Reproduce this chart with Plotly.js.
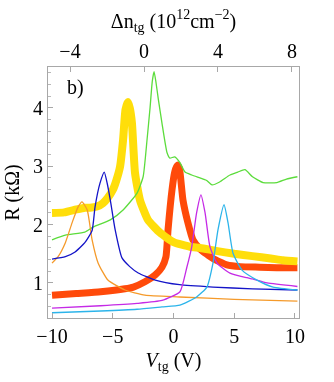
<!DOCTYPE html>
<html>
<head>
<meta charset="utf-8">
<script src="https://cdn.plot.ly/plotly-3.0.1.min.js"></script>
<style>
  html, body { margin: 0; padding: 0; background: #fff; }
  #chart { width: 334px; height: 382px; }
</style>
</head>
<body>
<div id="chart"></div>
<script>
// gate voltage (V) and resistance (kOhm)
const yellowV = [-10, -9, -8, -7.3, -6.87, -6.3, -5.8, -5.4, -4.98, -4.7, -4.4, -4.15, -3.95, -3.75, -3.6, -3.42, -3.17, -2.76, -2.1, -1.1, 0, 1.36, 2.2, 3.5, 5, 6.5, 8, 9, 10.2];
const yellowR = [2.20, 2.21, 2.26, 2.29, 2.29, 2.31, 2.37, 2.46, 2.6, 2.76, 2.99, 3.45, 3.97, 4.1, 4.0, 3.74, 2.89, 2.42, 2.08, 1.86, 1.7, 1.62, 1.6, 1.55, 1.5, 1.46, 1.42, 1.39, 1.37];

const redV = [-10, -8, -6, -4, -3.3, -2.35, -1.5, -0.95, -0.62, -0.45, -0.12, 0.1, 0.25, 0.37, 0.5, 0.78, 1.19, 1.6, 2.2, 3.25, 4.4, 5.5, 7.1, 8.5, 10.2];
const redR = [0.79, 0.82, 0.85, 0.9, 0.93, 1.02, 1.14, 1.27, 1.45, 1.91, 2.6, 2.9, 2.99, 3.02, 2.95, 2.42, 2.03, 1.74, 1.58, 1.42, 1.31, 1.28, 1.27, 1.26, 1.26];

const greenV = [-10, -8.9, -7.3, -6.6, -5.2, -4.15, -3.0, -2.5, -2.18, -1.93, -1.75, -1.6, -1.45, -1.25, -0.95, -0.53, -0.3, 0.1, 0.53, 0.95, 1.5, 2.18, 2.7, 3.17, 3.8, 4.65, 5.3, 5.88, 6.5, 7.37, 8.5, 9.3, 10.2];
const greenR = [1.74, 1.82, 1.87, 1.96, 2.08, 2.25, 2.54, 2.82, 3.45, 4.0, 4.45, 4.62, 4.45, 4.15, 3.74, 3.23, 3.14, 3.16, 3.06, 2.9, 2.85, 2.8, 2.76, 2.68, 2.73, 2.85, 2.9, 2.94, 2.82, 2.72, 2.72, 2.78, 2.82];

const blueV = [-10, -8.9, -8.1, -7.3, -6.7, -6.46, -6.05, -5.7, -5.45, -5.2, -4.8, -4.24, -3.6, -2.9, -1.5, 0.5, 3.25, 6.5, 10.2];
const blueR = [1.41, 1.45, 1.53, 1.69, 1.9, 2.3, 2.71, 2.9, 2.7, 2.42, 1.91, 1.43, 1.28, 1.17, 1.05, 0.97, 0.93, 0.9, 0.88];

const orangeV = [-10, -9.5, -8.9, -8.35, -7.86, -7.53, -7.1, -6.7, -6.2, -5.4, -4.0, -2.35, 0.5, 5, 10.2];
const orangeR = [1.34, 1.45, 1.69, 2.03, 2.3, 2.39, 2.25, 1.74, 1.34, 1.05, 0.88, 0.79, 0.76, 0.72, 0.69];

const purpleV = [-10, -6, -3, -0.95, 0.53, 1.1, 1.5, 1.9, 2.26, 2.6, 3.0, 3.58, 4.65, 6.05, 6.5, 7.7, 10.2];
const purpleR = [0.57, 0.61, 0.65, 0.7, 0.85, 1.27, 1.62, 2.2, 2.51, 2.2, 1.62, 1.34, 1.17, 1.09, 1.07, 1.0, 0.94];

const cyanV = [-10, -6, -3, -0.95, 0.53, 1.9, 2.75, 3.25, 3.66, 4.16, 4.49, 4.9, 5.64, 6.87, 8.2, 10.2];
const cyanR = [0.49, 0.52, 0.55, 0.59, 0.62, 0.76, 0.93, 1.34, 1.91, 2.34, 2.03, 1.51, 1.22, 1.05, 0.93, 0.88];

const bottomTicks = [-10, -5, 0, 5, 10];
const topTicks = [-4, 0, 4, 8];
const leftTicks = [1, 2, 3, 4];

const serif = "Liberation Serif, Times New Roman, serif";
const thin = 1.3;

function line(xs, ys, color, width) {
    return {
        x: xs, y: ys, type: "scatter", mode: "lines",
        line: { color: color, width: width, shape: "spline", smoothing: 0.5 },
        hoverinfo: "skip"
    };
}

const traces = [
    line(redV, redR, "#ff4a0a", 7),
    line(yellowV, yellowR, "#ffde0a", 8),
    line(greenV, greenR, "#5cdc3c", thin),
    line(orangeV, orangeR, "#f59a2a", thin),
    line(blueV, blueR, "#1414c8", thin),
    line(purpleV, purpleR, "#c52ae6", thin),
    line(cyanV, cyanR, "#2cb4ea", thin),
    // invisible trace so the top (density) axis gets drawn
    { x: topTicks, y: leftTicks, xaxis: "x2", yaxis: "y", type: "scatter", mode: "markers", opacity: 0, hoverinfo: "skip" }
];

const axisBase = {
    showline: true, linecolor: "#a8a8a8", linewidth: 1,
    ticks: "inside", ticklen: 5, tickcolor: "#a8a8a8",
    showgrid: false, zeroline: false,
    tickfont: { family: serif, size: 20, color: "#000" }
};

const layout = {
    width: 334, height: 382,
    margin: { l: 48, r: 35, t: 67, b: 64 },
    paper_bgcolor: "#fff", plot_bgcolor: "#fff",
    showlegend: false,
    font: { family: serif, color: "#000" },
    xaxis: Object.assign({}, axisBase, {
        range: [-10.33, 10.33], tickmode: "array", tickvals: bottomTicks,
        mirror: true,
        title: { text: "<i>V</i><sub>tg</sub> (V)", font: { family: serif, size: 20 }, standoff: 6 }
    }),
    xaxis2: Object.assign({}, axisBase, {
        overlaying: "x", side: "top", anchor: "y",
        range: [-5.19, 8.38], tickmode: "array", tickvals: topTicks,
        title: { text: "Δn<sub>tg</sub> (10<sup>12</sup>cm<sup>−2</sup>)", font: { family: serif, size: 20 }, standoff: 6 }
    }),
    yaxis: Object.assign({}, axisBase, {
        range: [0.40, 4.70], tickmode: "array", tickvals: leftTicks,
        mirror: true,
        minor: { dtick: 0.2, ticks: "inside", ticklen: 3, tickcolor: "#b8b8b8" },
        title: { text: "R (kΩ)", font: { family: serif, size: 20 }, standoff: 8 }
    }),
    annotations: [{
        text: "b)", xref: "paper", yref: "paper", x: 0.066, y: 0.92,
        xanchor: "left", yanchor: "middle", showarrow: false,
        font: { family: serif, size: 20, color: "#000" }
    }]
};

Plotly.newPlot("chart", traces, layout, { displayModeBar: false, staticPlot: true });
</script>
</body>
</html>
